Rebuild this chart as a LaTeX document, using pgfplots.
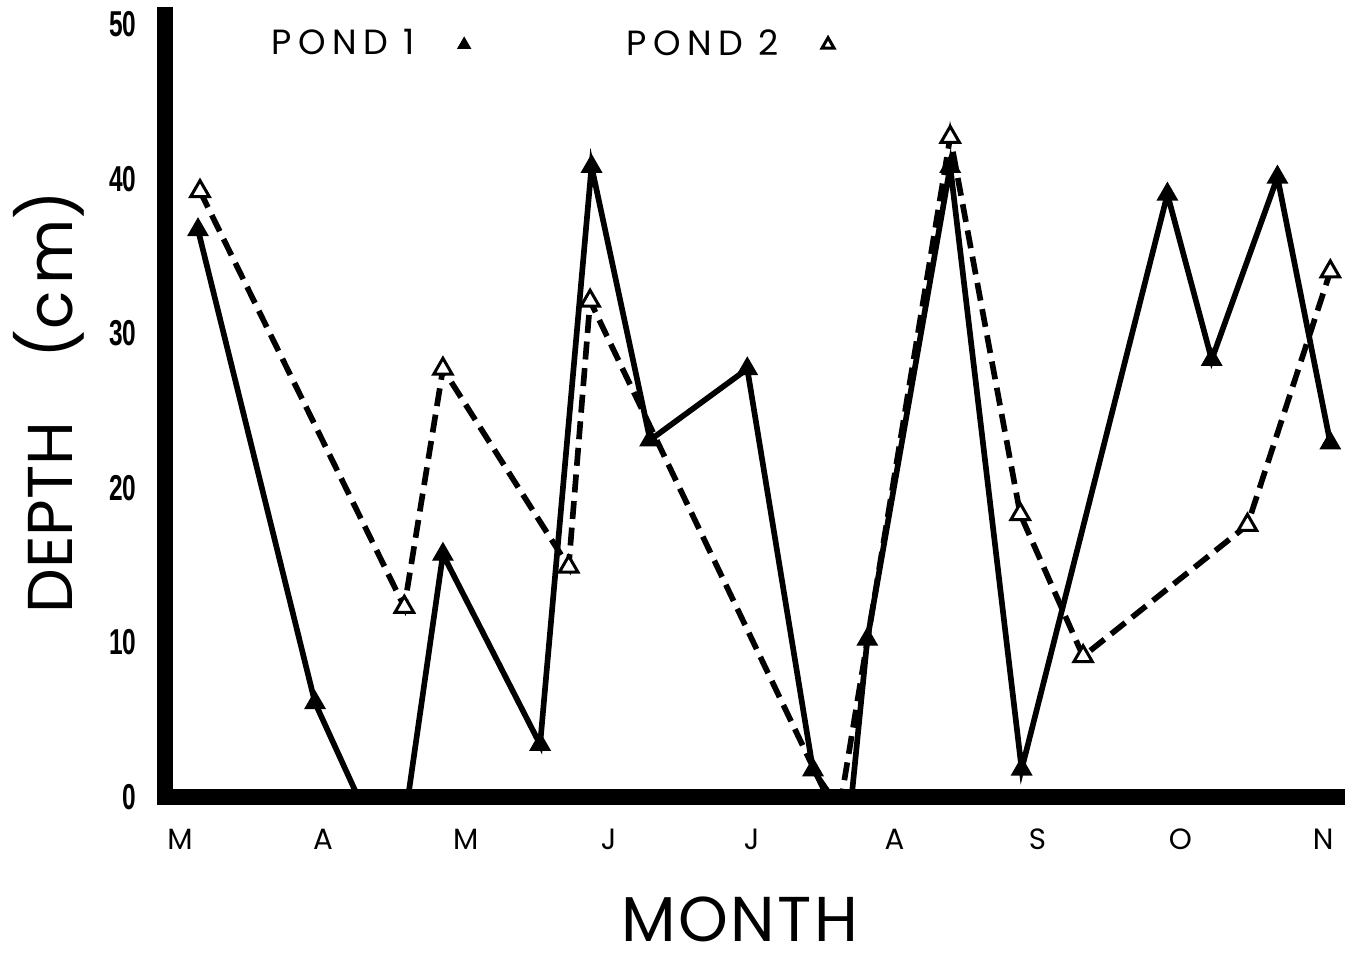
\documentclass[border=0pt]{standalone}
\usepackage{graphicx}
\usepackage{pgfplots}
\usepackage{pgfplotstable}
\pgfplotsset{compat=1.18}
\usepackage{fontspec}
\setmainfont{Poppins}
\newfontfamily\numfont{Liberation Sans}
\newcommand{\nf}[1]{\scalebox{0.68}[1]{\numfont\bfseries\fontsize{10.8}{11}\selectfont #1}}

\pgfplotstableread{
x y
0.126 36.7
0.945 6.1
1.246 0
1.596 0
1.84 15.7
2.52 3.4
2.88 40.8
3.29 23.1
3.97 27.7
4.43 1.75
4.56 0
4.70 0
4.81 10.2
5.39 40.8
5.89 1.8
6.91 39.0
7.22 28.3
7.68 40.1
8.05 22.9
}\pondone

\pgfplotstableread{
x y
0.14 39.2
1.57 12.3
1.84 27.7
2.72 14.9
2.87 32.1
4.53 0
4.63 0
5.39 42.7
5.88 18.3
6.32 9.1
7.47 17.6
8.05 34.0
}\pondtwo

\begin{document}
\begin{tikzpicture}
\useasboundingbox (0,0) rectangle (403.5pt,-286.5pt);
\begin{axis}[
  at={(49.5pt,-239.1pt)}, anchor=south west,
  scale only axis, width=351.6pt, height=234.6pt,
  xmin=-0.105, xmax=8.097, ymin=0, ymax=50.6,
  axis lines=left,
  axis line style={-, line width=4.7pt, line cap=rect},
  axis on top,
  clip=false,
  major tick length=0pt,
  xtick={0,...,8},
  xticklabels={M,A,M,J,J,A,S,O,N},
  xticklabel style={font=\fontsize{8.8}{9}\selectfont, yshift=-6pt},
  ytick={0,10,20,30,40,50},
  yticklabels={{\nf{0}},{\nf{10}},{\nf{20}},{\nf{30}},{\nf{40}},{\nf{50}}},
  yticklabel style={xshift=-5pt},
  xlabel={\addfontfeature{LetterSpace=4}MONTH},
  xlabel style={at={(axis description cs:0.4906,-0.157)}, anchor=center, inner sep=0pt, font=\fontsize{19}{20}\selectfont},
  ylabel={DEPTH\quad(c\hspace{2pt}m)},
  ylabel style={at={(axis description cs:-0.099,0.505)}, anchor=center, rotate=0, font=\fontsize{19}{20}\selectfont},
  legend columns=2,
  legend plot pos=right,
  legend image code/.code={\path[draw=none,fill=none] (0cm,0cm) -- (0.5cm,0cm); \draw[#1,mark size=2.1pt] plot coordinates {(0.45cm,0cm)};},
  legend style={draw=none, fill=none, inner sep=0pt,
    at={(axis description cs:0.085,0.962)}, anchor=west,
    font=\fontsize{10.5}{11}\selectfont\addfontfeature{LetterSpace=18},
    /tikz/every even column/.append style={column sep=45pt}},
]
\addplot[black, line width=1.7pt, forget plot] table[x=x,y=y] {\pondone};
\addplot[black, line width=1.7pt, dash pattern=on 5.4pt off 2.6pt, forget plot] table[x=x,y=y] {\pondtwo};
\addplot[only marks, mark=triangle*, mark size=3.4pt, mark options={fill=black, draw=black},
  y filter/.expression={y<0.5 ? nan : y}] table[x=x,y=y] {\pondone};
\addlegendentry{POND 1}
\addplot[only marks, mark=triangle*, mark size=3.2pt, mark options={fill=white, draw=black, line width=0.9pt},
  y filter/.expression={y<0.5 ? nan : y}] table[x=x,y=y] {\pondtwo};
\addlegendentry{POND 2}
\end{axis}
\end{tikzpicture}
\end{document}
